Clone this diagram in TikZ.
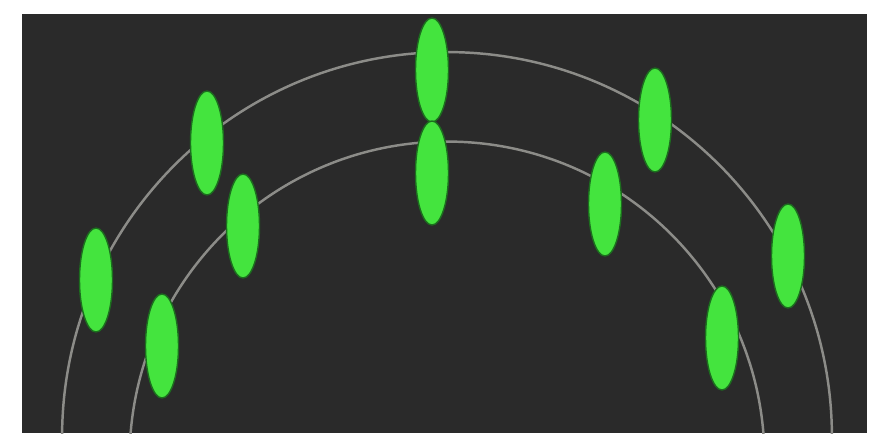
\documentclass[tikz,border=0pt]{standalone}
\usepackage{tikz}
\usetikzlibrary{shapes.geometric}

\definecolor{scopebg}{RGB}{42,42,42}
\definecolor{ringgray}{RGB}{140,140,136}
\definecolor{blipgreen}{RGB}{68,228,62}
\definecolor{blipedge}{RGB}{28,110,30}

\tikzset{
    blip/.style={ellipse, minimum width=0.66cm, minimum height=2.08cm, inner sep=0pt,
        fill=blipgreen, draw=blipedge, line width=0.8pt},
    ring/.style={ringgray, line width=1.4pt}
}

\begin{document}
\begin{tikzpicture}[x=0.02cm, y=-0.02cm]

    % --- frame ---
    \useasboundingbox[fill=white] (0,0) rectangle (879,436);
    \fill[scopebg] (22,14) rectangle (867,433);

    % --- rings ---
    \begin{scope}
        \clip (22,14) rectangle (867,433);
        \draw[ring] (447,437) circle [radius=7.7cm];
        \draw[ring] (447,459) circle [radius=6.35cm];
    \end{scope}

    % --- outer ring blips ---
    \node[blip] (o1) at (96,280) {};
    \node[blip] (o2) at (207,143) {};
    \node[blip] (o3) at (432,70) {};
    \node[blip] (o4) at (655,120) {};
    \node[blip] (o5) at (788,256) {};

    % --- inner ring blips ---
    \node[blip] (i1) at (162,346) {};
    \node[blip] (i2) at (243,226) {};
    \node[blip] (i3) at (432,173) {};
    \node[blip] (i4) at (605,204) {};
    \node[blip] (i5) at (722,338) {};

\end{tikzpicture}
\end{document}
